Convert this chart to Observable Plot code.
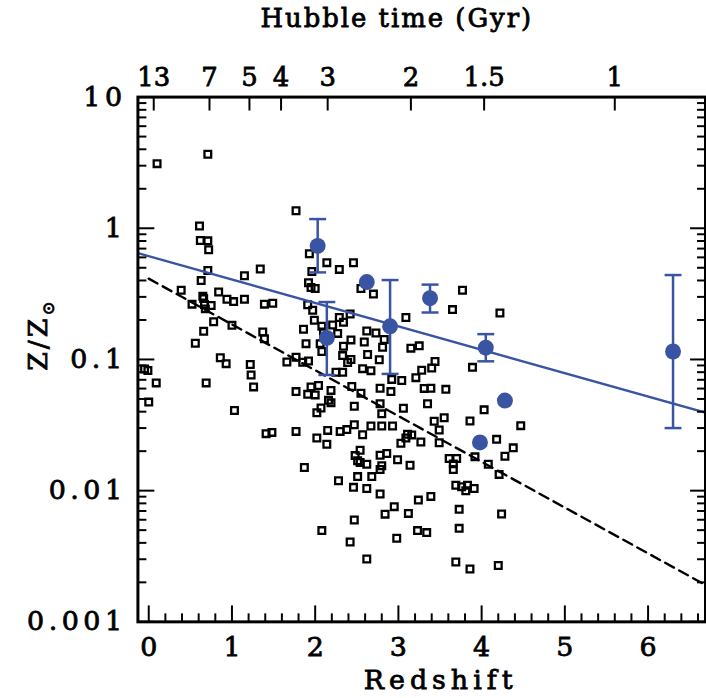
<!DOCTYPE html>
<html>
<head>
<meta charset="utf-8">
<script src="https://cdn.jsdelivr.net/npm/d3@7"></script>
<script src="https://cdn.jsdelivr.net/npm/@observablehq/plot@0.6"></script>
<style>
  html, body { margin: 0; padding: 0; background: #fff; }
  #chart { width: 706px; height: 698px; overflow: hidden; }
  svg text { font-family: "DejaVu Serif", serif; stroke: black; stroke-width: 0.8px; }
  g[aria-description="ytick-labels"] text { letter-spacing: 4.5px; }
  g[aria-description="xlabel"] text { letter-spacing: 5px; }
  g[aria-description="title"] text { letter-spacing: 2px; }
</style>
</head>
<body>
<div id="chart"></div>
<script>
// ---- Data ----
// Galaxy sample (open squares): [redshift, Z/Zsun]
const squares = [
  [0.10,3.11],[0.71,3.67],[1.77,1.36],[0.61,1.04],[0.62,0.807],[0.71,0.802],[0.72,0.686],
  [1.93,0.639],[2.14,0.547],[2.29,0.486],[2.46,0.546],[0.71,0.477],[1.34,0.489],[1.15,0.435],
  [1.96,0.468],[0.63,0.399],[1.92,0.384],[1.95,0.353],[2.00,0.347],[2.55,0.347],[2.70,0.315],
  [3.77,0.337],[0.39,0.337],[0.84,0.327],[0.65,0.303],[0.66,0.291],[0.94,0.288],[1.02,0.276],
  [1.15,0.288],[0.52,0.264],[0.67,0.262],[0.75,0.258],[0.68,0.243],[1.39,0.264],[1.49,0.268],
  [1.91,0.261],[1.97,0.237],[2.29,0.209],[1.99,0.199],[0.78,0.194],[1.00,0.182],[2.08,0.179],
  [2.21,0.183],[1.86,0.170],[0.66,0.164],[1.37,0.162],[1.39,0.144],[1.89,0.132],[0.56,0.133],
  [2.06,0.132],[2.08,0.115],[0.86,0.103],[0.93,0.0929],[1.22,0.0916],[1.66,0.0957],[1.77,0.104],
  [1.85,0.0951],[1.92,0.0973],[2.42,0.222],[2.34,0.192],[3.09,0.209],[3.65,0.240],[4.22,0.226],
  [2.10,0.162],[2.27,0.158],[2.62,0.165],[2.73,0.159],[2.43,0.141],[2.59,0.136],[2.83,0.142],
  [2.34,0.126],[2.81,0.124],[2.33,0.107],[2.63,0.109],[3.15,0.122],[3.25,0.127],[3.89,0.0871],
  [2.77,0.0996],[3.44,0.0965],[2.39,0.0948],[2.43,0.100],[3.40,0.0861],[2.57,0.0851],[2.67,0.0822],
  [2.25,0.0798],[2.33,0.0798],[3.28,0.0828],[3.21,0.0727],[2.92,0.0705],[3.04,0.0692],
  [1.77,0.0569],[1.95,0.0618],[2.04,0.0634],[2.19,0.0581],[1.91,0.0542],[2.00,0.0537],[2.44,0.0623],
  [2.55,0.0553],[2.78,0.0604],[2.91,0.0569],[3.31,0.0602],[3.39,0.0604],[3.57,0.0592],[2.16,0.0488],
  [2.19,0.0467],[2.07,0.0426],[2.02,0.0392],[2.47,0.0440],[2.78,0.0459],[2.80,0.0385],[3.06,0.0425],
  [3.35,0.0459],[4.03,0.0413],[3.86,0.0340],[4.47,0.0313],[3.43,0.0338],[3.55,0.0360],[1.77,0.0283],
  [2.15,0.0288],[2.02,0.0252],[2.14,0.0226],[2.30,0.0283],[2.38,0.0292],[2.47,0.0318],[2.57,0.0267],
  [2.67,0.0311],[2.80,0.0311],[2.93,0.0311],[3.11,0.0269],[3.16,0.0266],[3.09,0.0252],[3.03,0.0230],
  [3.27,0.0235],[3.49,0.0290],[3.49,0.0232],[4.18,0.0246],[4.38,0.0212],[4.28,0.0183],[3.92,0.0181],
  [4.08,0.0159],[4.21,0.0133],[3.61,0.0176],[3.70,0.0176],[3.66,0.0160],[3.66,0.0145],[2.54,0.0203],
  [2.48,0.0185],[2.51,0.0169],[2.54,0.0164],[2.62,0.0159],[2.78,0.0186],[2.86,0.0192],[2.80,0.0155],
  [2.78,0.0145],[2.99,0.0172],[3.14,0.0156],[1.87,0.0150],[2.51,0.0128],[2.68,0.0128],[2.28,0.0119],
  [2.46,0.0106],[2.62,0.0104],[2.78,0.00944],[3.69,0.0110],[3.76,0.0107],[3.83,0.0110],[3.81,0.00998],
  [3.91,0.0104],[3.39,0.00904],[3.24,0.00847],[2.95,0.00755],[2.84,0.00662],[3.12,0.00671],
  [3.73,0.00720],[4.24,0.00664],[2.47,0.00597],[2.08,0.00496],[3.23,0.00496],[3.34,0.00479],
  [3.73,0.00516],[2.42,0.00406],[2.98,0.00434],[2.62,0.00301],[3.69,0.00286],[3.86,0.00253],
  [4.20,0.00269],[-0.01,0.0824],[-0.05,0.0847],[0.09,0.0663],[0.69,0.0663],[0.00,0.0473],
  [1.03,0.0408],[1.41,0.0272],[1.48,0.0278],[1.23,0.0762],[1.26,0.0618]
];

// Highlighted measurements (filled blue circles)
const blueRedshift = [2.03, 2.14, 2.62, 2.90, 3.38, 4.05, 4.28, 3.98, 6.30];
const blueMetal    = [0.733, 0.146, 0.389, 0.179, 0.293, 0.123, 0.0486, 0.0233, 0.115];
const blueErrLow   = [0.461, 0.0762, null, 0.0776, 0.228, 0.0968, null, null, 0.030];
const blueErrHigh  = [1.175, 0.274, null, 0.403, 0.372, 0.156, null, null, 0.440];

// Fitted relations (end points)
const solidFitRedshift  = [-0.13, 6.69];
const solidFitMetal     = [0.646, 0.0393];
const dashedFitRedshift = [0.0, 6.69];
const dashedFitMetal    = [0.413, 0.00191];

// Axis ticks
const xMajor = [0, 1, 2, 3, 4, 5, 6];
const xMinor = d3.range(0, 6.7, 0.2).map(v => +v.toFixed(1)).filter(v => Math.abs(v - Math.round(v)) > 1e-6);
const yMajor = [0.001, 0.01, 0.1, 1, 10];
const yMajorLabels = ["0.001", "0.01", "0.1", "1", "10"];
const yMinor = [0.001, 0.01, 0.1, 1].flatMap(d => [2,3,4,5,6,7,8,9].map(m => +(d*m).toPrecision(2)));
const hubbleTimeLabels   = ["13", "7", "5", "4", "3", "2", "1.5", "1"];
const hubbleTimeRedshift = [0.06, 0.73, 1.21, 1.59, 2.15, 3.15, 4.03, 5.60];

// ---- Build tables ----
const blue = blueRedshift.map((z, i) => ({z, Z: blueMetal[i], lo: blueErrLow[i], hi: blueErrHigh[i]}));
const blueErr = blue.filter(d => d.lo != null);
const solidFit = solidFitRedshift.map((z, i) => ({z, Z: solidFitMetal[i]}));
const dashedFit = dashedFitRedshift.map((z, i) => ({z, Z: dashedFitMetal[i]}));

const BLUE = "#3a54a4";
const W = 709, H = 698, mL = 138, mR = 1, mT = 97, mB = 74;
const pw = W - mL - mR, ph = H - mT - mB;

const capSymbol = { draw(ctx) { ctx.moveTo(-8.5, 0); ctx.lineTo(8.5, 0); } };

const yAxisTitle = () => {
  const g = d3.create("svg:g").attr("aria-label", "ytitle");
  const t = g.append("text")
    .attr("transform", "translate(47,336) rotate(-90)")
    .attr("text-anchor", "middle")
    .attr("font-size", 27)
    .attr("fill", "black")
    .style("letter-spacing", "3px");
  t.append("tspan").text("Z/Z");
  t.append("tspan").attr("font-size", 17).attr("dy", 7).text("\u2299");
  return g.node();
};

const txt = {fill: "black", lineAnchor: "middle"};

const chart = Plot.plot({
  width: W, height: H,
  marginLeft: mL, marginRight: mR, marginTop: mT, marginBottom: mB,
  x: {domain: [-0.13, 6.69], axis: null},
  y: {type: "log", domain: [0.001, 10], axis: null},
  marks: [
    // data
    Plot.dot(squares, {x: d => d[0], y: d => d[1], symbol: "square", r: 3.8, stroke: "black", strokeWidth: 2.3, fill: "none"}),
    Plot.line(dashedFit, {x: "z", y: "Z", stroke: "black", strokeWidth: 2.4, strokeDasharray: "10,6", clip: true}),
    Plot.line(solidFit, {x: "z", y: "Z", stroke: BLUE, strokeWidth: 2.4, clip: true}),
    Plot.ruleX(blueErr, {x: "z", y1: "lo", y2: "hi", stroke: BLUE, strokeWidth: 2.5}),
    Plot.dot(blueErr, {x: "z", y: "lo", symbol: capSymbol, stroke: BLUE, strokeWidth: 2.5}),
    Plot.dot(blueErr, {x: "z", y: "hi", symbol: capSymbol, stroke: BLUE, strokeWidth: 2.5}),
    Plot.dot(blue, {x: "z", y: "Z", r: 8, fill: BLUE}),
    // inward ticks
    Plot.tickY(yMajor, {y: d => d, insetRight: pw - 17, stroke: "black", strokeWidth: 2}),
    Plot.tickY(yMinor, {y: d => d, insetRight: pw - 9, stroke: "black", strokeWidth: 2}),
    Plot.tickY(yMajor, {y: d => d, insetLeft: pw - 15, stroke: "black", strokeWidth: 2}),
    Plot.tickY(yMinor, {y: d => d, insetLeft: pw - 8, stroke: "black", strokeWidth: 2}),
    Plot.tickX(xMajor, {x: d => d, insetTop: ph - 16, stroke: "black", strokeWidth: 2}),
    Plot.tickX(xMinor, {x: d => d, insetTop: ph - 8, stroke: "black", strokeWidth: 2}),
    Plot.tickX(hubbleTimeRedshift, {x: d => d, insetBottom: ph - 14, stroke: "black", strokeWidth: 2}),
    // tick labels
    Plot.text(xMajor, {...txt, x: d => d, text: d => String(d), frameAnchor: "bottom", dy: 26, fontSize: 27}),
    Plot.text(yMajor, {...txt, y: d => d, text: (d, i) => yMajorLabels[i], frameAnchor: "left", dx: -11.5, textAnchor: "end", fontSize: 27, ariaDescription: "ytick-labels"}),
    Plot.text(hubbleTimeRedshift, {...txt, x: d => d, text: (d, i) => hubbleTimeLabels[i], frameAnchor: "top", dy: -19, fontSize: 26}),
    // axis titles
    Plot.text(["Redshift"], {...txt, frameAnchor: "bottom", dx: 19, dy: 59, fontSize: 27, ariaDescription: "xlabel"}),
    Plot.text(["Hubble time (Gyr)"], {...txt, frameAnchor: "top", dx: -25, dy: -79, fontSize: 26, ariaDescription: "title"}),
    yAxisTitle,
    Plot.frame({stroke: "black", strokeWidth: 3})
  ]
});
document.getElementById("chart").append(chart);
</script>
</body>
</html>
